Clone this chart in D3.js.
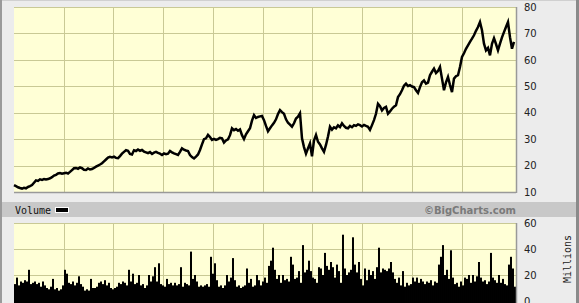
<!DOCTYPE html>
<html><head><meta charset="utf-8">
<script src="https://cdn.jsdelivr.net/npm/d3@7"></script>
<style>
html,body{margin:0;padding:0;background:#ececec;}
svg{display:block;}
</style></head>
<body>
<script>
// ---- data ----
const startYear = 1996;
const endYear = 2006.05;
const priceTicks = [10, 20, 30, 40, 50, 60, 70, 80];
const volumeTicks = [0, 20, 40, 60];
const gridYears = [1997, 1998, 1999, 2000, 2001, 2002, 2003, 2004, 2005];
const price = [
12.6,12.2,11.8,11.5,11.3,11.6,11.4,11.9,12.2,12.6,
13.5,14.4,14.2,14.8,14.6,14.9,14.7,14.9,15.2,15.6,
16.2,16.5,17.0,17.2,16.9,17.1,17.3,17.0,17.6,18.3,
19.0,19.1,18.8,19.3,19.0,18.4,18.3,18.9,18.5,18.7,
19.1,19.6,20.0,20.4,20.9,21.6,22.3,23.0,23.3,23.1,
23.4,22.9,22.8,23.6,24.5,25.2,25.8,25.6,24.4,24.2,
25.8,25.5,26.1,25.6,25.9,25.3,25.0,24.7,25.1,24.4,
24.9,25.2,24.8,24.5,24.0,24.6,24.3,24.5,25.5,25.0,
24.6,24.3,24.0,25.2,26.5,26.0,25.7,25.5,24.0,23.2,
22.7,23.4,24.2,25.9,28.0,30.0,30.3,31.6,30.8,29.7,
30.1,29.7,30.0,30.5,30.3,28.7,29.5,29.9,31.5,34.1,
33.4,33.8,33.2,33.7,31.5,30.0,31.8,33.0,34.1,37.0,
39.1,38.0,38.4,38.6,38.8,37.2,35.0,33.0,34.1,35.2,
36.2,37.5,39.5,41.0,40.2,39.6,37.5,36.2,35.5,34.7,
36.0,37.8,38.5,39.8,30.3,27.0,24.5,26.5,28.4,23.5,
29.5,31.6,29.0,28.0,26.5,25.2,27.8,31.0,34.7,33.6,
34.5,34.1,35.2,34.6,36.0,35.0,34.3,34.1,35.0,34.5,
35.3,35.0,35.6,35.3,34.8,35.4,35.0,34.7,33.5,35.3,
37.2,39.6,43.4,42.5,40.9,41.8,42.2,39.6,40.5,41.5,
42.3,42.8,45.9,47.0,48.5,50.2,51.0,50.1,50.4,49.9,
49.7,48.5,47.5,49.7,51.5,52.2,51.0,51.4,54.2,55.5,
56.7,55.0,55.8,57.3,52.9,48.5,51.5,53.5,50.5,47.8,
52.9,53.8,54.2,57.3,61.1,62.5,64.2,65.5,66.8,68.0,
69.3,71.0,72.4,74.3,71.2,66.1,63.6,64.5,61.7,66.1,
68.2,66.0,63.6,66.1,68.5,70.5,72.4,74.3,68.6,64.2,
66.8
];
const volume = [
13,18,12,15,14,16,15,24,13,14,
15,13,14,11,15,12,10,9,11,17,
9,10,8,9,12,24,21,14,13,15,
12,14,19,13,11,8,9,8,17,10,
10,11,14,15,13,16,12,14,10,9,
10,11,14,13,15,14,12,24,15,21,
13,14,20,12,13,10,12,20,15,19,
26,15,29,13,12,11,17,13,14,12,
14,12,13,26,11,14,13,12,38,17,
20,15,11,12,11,12,13,11,34,21,
29,16,11,12,10,12,20,15,18,33,
16,11,12,10,11,12,25,14,17,11,
12,20,16,12,15,18,14,27,31,41,
24,17,20,14,20,16,17,15,34,28,
17,18,23,14,43,22,24,31,23,18,
17,14,26,25,20,37,27,24,30,26,
18,28,23,14,51,25,20,22,24,49,
28,22,30,17,12,25,16,24,20,23,
17,26,41,22,25,24,23,25,30,22,
17,14,18,12,23,11,14,12,13,18,
15,18,14,17,15,13,15,14,16,12,
15,14,28,34,43,20,24,17,39,18,
13,14,11,15,12,18,17,20,14,20,
15,19,30,18,15,16,13,15,37,18,
16,14,20,14,17,13,12,28,34,25,
11
];

// ---- layout ----
const W = 579, H = 303;
const L = 14, R = 516;
const pTop = 7, pBot = 192;
const vTop = 223, vBot = 301;
const gridColor = "#c9c995";
const fillColor = "#ffffd6";

const svg = d3.select("body").append("svg").attr("width", W).attr("height", H);

// frame
svg.append("rect").attr("x",0).attr("y",0).attr("width",W).attr("height",H).attr("fill","#ececec");
svg.append("rect").attr("x",0).attr("y",0).attr("width",W).attr("height",1).attr("fill","#d0d0d0");
svg.append("rect").attr("x",0).attr("y",0).attr("width",2).attr("height",H).attr("fill","#9a9a9a");
svg.append("rect").attr("x",W-3).attr("y",0).attr("width",3).attr("height",H).attr("fill","#8a8a8a");

const step = (endYear - startYear) / (price.length - 1);
const dates = price.map((_, i) => startYear + i * step);

const x = d3.scaleLinear().domain([startYear, startYear + (R - L) / 49.75]).range([L, R]);
const yP = d3.scaleLinear().domain([10, 80]).range([pBot, pTop]);
const yV = d3.scaleLinear().domain([0, 60]).range([vBot, vTop]);

// price panel
svg.append("rect").attr("x",L).attr("y",pTop).attr("width",R-L).attr("height",pBot-pTop).attr("fill",fillColor);
const gp = svg.append("g");
gp.selectAll("line.h").data(priceTicks.filter(d=>d>10)).enter().append("line")
  .attr("x1",L).attr("x2",R).attr("y1",d=>Math.round(yP(d))+0.5).attr("y2",d=>Math.round(yP(d))+0.5)
  .attr("stroke",gridColor).attr("stroke-width",1);
gp.selectAll("line.v").data(gridYears).enter().append("line")
  .attr("x1",d=>Math.round(x(d))+0.5).attr("x2",d=>Math.round(x(d))+0.5).attr("y1",pTop).attr("y2",pBot)
  .attr("stroke",gridColor).attr("stroke-width",1);
gp.append("line").attr("x1",L).attr("x2",R).attr("y1",pBot+0.5).attr("y2",pBot+0.5).attr("stroke","#999").attr("stroke-width",1.5);
gp.append("line").attr("x1",R+0.5).attr("x2",R+0.5).attr("y1",pTop).attr("y2",pBot+1).attr("stroke","#999").attr("stroke-width",1.5);

const line = d3.line().x((d,i)=>x(dates[i])).y(d=>yP(d));
gp.append("path").datum(price).attr("d",line).attr("fill","none").attr("stroke","#000").attr("stroke-width",2.5).attr("stroke-linejoin","miter");

// price axis
const axP = svg.append("g").attr("transform",`translate(${R},0)`)
  .call(d3.axisRight(yP).tickValues(priceTicks).tickSize(0).tickPadding(8));
axP.select(".domain").remove();
axP.selectAll("text").attr("font-family","'DejaVu Sans', Verdana, sans-serif").attr("font-size","10px").attr("fill","#222");

// volume band
svg.append("rect").attr("x",2).attr("y",202).attr("width",W-5).attr("height",15).attr("fill","#c8c8c8");
svg.append("text").attr("x",L+1).attr("y",213.5).text("Volume")
  .attr("font-family","'DejaVu Sans Mono', monospace").attr("font-size","10px").attr("fill","#111");
svg.append("rect").attr("x",55).attr("y",207).attr("width",14).attr("height",6).attr("fill","#fff");
svg.append("rect").attr("x",56).attr("y",208).attr("width",12).attr("height",4).attr("fill","#000");
svg.append("text").attr("x",R).attr("y",213.5).attr("text-anchor","end").text("©BigCharts.com")
  .attr("font-family","'DejaVu Sans', Verdana, sans-serif").attr("font-weight","bold").attr("font-size","10px").attr("fill","#7a7a7a");

// volume panel
svg.append("rect").attr("x",L).attr("y",vTop).attr("width",R-L).attr("height",H-vTop).attr("fill",fillColor);
const gv = svg.append("g");
gv.selectAll("line.h").data(volumeTicks.filter(d=>d>0)).enter().append("line")
  .attr("x1",L).attr("x2",R).attr("y1",d=>Math.round(yV(d))+0.5).attr("y2",d=>Math.round(yV(d))+0.5)
  .attr("stroke",gridColor).attr("stroke-width",1);
gv.selectAll("line.v").data(gridYears).enter().append("line")
  .attr("x1",d=>Math.round(x(d))+0.5).attr("x2",d=>Math.round(x(d))+0.5).attr("y1",vTop).attr("y2",H)
  .attr("stroke",gridColor).attr("stroke-width",1);
const bw = x(startYear + step) - x(startYear);
gv.selectAll("rect.bar").data(volume).enter().append("rect")
  .attr("x",(d,i)=>x(dates[i]))
  .attr("width",bw)
  .attr("y",d=>yV(d))
  .attr("height",d=>H - yV(d))
  .attr("fill","#000");
gv.append("line").attr("x1",R+0.5).attr("x2",R+0.5).attr("y1",vTop).attr("y2",H).attr("stroke","#999").attr("stroke-width",1.5);

const axV = svg.append("g").attr("transform",`translate(${R},0)`)
  .call(d3.axisRight(yV).tickValues(volumeTicks).tickSize(0).tickPadding(8));
axV.select(".domain").remove();
axV.selectAll("text").attr("font-family","'DejaVu Sans', Verdana, sans-serif").attr("font-size","10px").attr("fill","#222");

svg.append("text").attr("transform","translate(571,259) rotate(-90)").attr("text-anchor","middle")
  .text("Millions").attr("font-family","'DejaVu Sans Mono', monospace").attr("font-size","10px").attr("fill","#222");
</script>
</body></html>
